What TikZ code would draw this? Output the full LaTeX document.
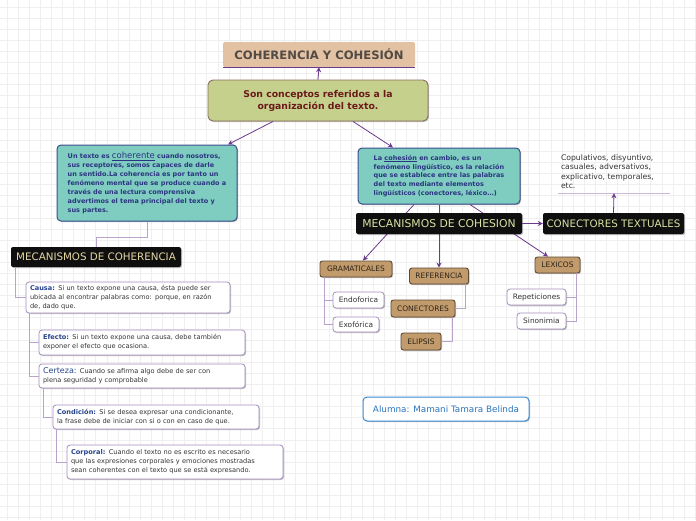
\documentclass[tikz,border=0pt]{standalone}
\usepackage{fontspec}
\setmainfont{DejaVu Sans}
\usetikzlibrary{arrows.meta,shadows}
\definecolor{gridc}{HTML}{EFEFEF}
\definecolor{titlefill}{HTML}{E3C1A3}
\definecolor{titletext}{HTML}{524A44}
\definecolor{mainfill}{HTML}{C5D08D}
\definecolor{mainborder}{HTML}{8C6E5E}
\definecolor{maintext}{HTML}{6B1A1A}
\definecolor{tealfill}{HTML}{7FCDC1}
\definecolor{tealborder}{HTML}{3C4E8C}
\definecolor{tealtext}{HTML}{2B3480}
\definecolor{khaki}{HTML}{E6D8A4}
\definecolor{yellowgreen}{HTML}{D9E2A2}
\definecolor{tanfill}{HTML}{C29B6C}
\definecolor{tanborder}{HTML}{5F4A33}
\definecolor{tantext}{HTML}{2E2418}
\definecolor{wborder}{HTML}{A58FC0}
\definecolor{labblue}{HTML}{27458C}
\definecolor{bodytext}{HTML}{333333}
\definecolor{arrowc}{HTML}{6B3A8C}
\definecolor{treec}{HTML}{B9A2CC}
\definecolor{alumborder}{HTML}{3C8BD2}
\definecolor{alumtext}{HTML}{2A76C0}
\definecolor{underc}{HTML}{C9B8DA}
\newcommand{\lab}[1]{{\bfseries\color{labblue}#1}}
\tikzset{
  sh/.style={drop shadow={shadow xshift=1pt,shadow yshift=-1pt,opacity=0.25,fill=black}},
  tealbox/.style={draw=tealborder,fill=tealfill,rounded corners=4pt,line width=1pt,
    font=\bfseries\fontsize{6.5}{9.1}\selectfont,text=tealtext,align=left,inner sep=0pt,sh},
  darkbox/.style={fill=black!94,rounded corners=2pt,font=\fontsize{10.3}{11}\selectfont,inner sep=0pt,sh},
  tanbox/.style={draw=tanborder,fill=tanfill,rounded corners=2.5pt,line width=0.9pt,
    font=\fontsize{7.5}{8}\selectfont,text=tantext,inner sep=0pt,sh},
  wbox/.style={draw=wborder,fill=white,rounded corners=3pt,line width=0.8pt,
    font=\fontsize{7.4}{8}\selectfont,text=bodytext,inner sep=0pt,sh},
  itembox/.style={wbox,align=left,font=\fontsize{6.6}{9}\selectfont,inner xsep=4pt,inner ysep=0pt},
  arr/.style={draw=arrowc,line width=0.8pt,-{Stealth[length=5pt,width=5pt]}},
  tree/.style={draw=treec,line width=0.8pt},
}
\begin{document}
\begin{tikzpicture}[x=1pt,y=-1pt]
\useasboundingbox (0,0) rectangle (696,520);
\fill[white] (0,0) rectangle (696,520);
\foreach \i in {0,...,62}{
  \draw[gridc,line width=0.8pt] ({7+\i*11.1},0) -- ({7+\i*11.1},520);
}
\foreach \i in {0,...,46}{
  \draw[gridc,line width=0.8pt] (0,{7+\i*11.1}) -- (696,{7+\i*11.1});
}

% top
\node[fill=titlefill,rounded corners=2pt,minimum width=192pt,minimum height=25pt,inner sep=0pt,
  font=\bfseries\fontsize{11.6}{12}\selectfont,text=titletext] (title) at (319,54.5) {COHERENCIA Y COHESIÓN};
\draw[arrowc,line width=1.2pt] (title.south west) -- (title.south east);
\node[draw=mainborder,fill=mainfill,rounded corners=5pt,line width=0.9pt,minimum width=220pt,minimum height=41pt,
  inner sep=0pt,align=center,font=\bfseries\fontsize{9.3}{12}\selectfont,text=maintext,sh] (main) at (318,100.5)
  {Son conceptos referidos a la\\organización del texto.};
\draw[arr] (main.north) -- (title.south);

% teal boxes
\node[tealbox,minimum width=180pt,minimum height=76pt] (lteal) at (147,183)
 {Un texto es \underline{{\mdseries\fontsize{8.5}{9.1}\selectfont coherente}} cuando nosotros,\\
  sus receptores, somos capaces de darle\\
  un sentido.La coherencia es por tanto un\\
  fenómeno mental que se produce cuando a\\
  través de una lectura comprensiva\\
  advertimos el tema principal del texto y\\
  sus partes.};
\node[tealbox,minimum width=162pt,minimum height=56pt,font=\bfseries\fontsize{6.5}{8.9}\selectfont] (rteal) at (439,176)
 {La \underline{cohesión} en cambio, es un\\
  fenómeno lingüístico, es la relación\\
  que se establece entre las palabras\\
  del texto mediante elementos\\
  lingüísticos (conectores, léxico…)};
\draw[arr] ([xshift=-45pt]main.south) -- ([xshift=81pt]lteal.north);
\draw[arr] ([xshift=35pt]main.south) -- ([xshift=-46pt]rteal.north);

% cohesion branch
\node[tanbox,minimum width=72pt,minimum height=16pt] (gram) at (356,269) {GRAMATICALES};
\node[tanbox,minimum width=59pt,minimum height=16pt] (ref) at (439,276) {REFERENCIA};
\node[tanbox,minimum width=64pt,minimum height=17pt] (conec) at (423,308.5) {CONECTORES};
\node[tanbox,minimum width=40pt,minimum height=17pt] (elip) at (421,341.5) {ELIPSIS};
\node[tanbox,minimum width=45pt,minimum height=16pt] (lex) at (557.5,265) {LEXICOS};
\node[wbox,minimum width=51pt,minimum height=16pt] (endo) at (358.5,300) {Endoforica};
\node[wbox,minimum width=46pt,minimum height=15pt] (exo) at (356,324.5) {Exofórica};
\node[wbox,minimum width=59pt,minimum height=16pt] (rep) at (536.5,297) {Repeticiones};
\node[wbox,minimum width=49pt,minimum height=16pt] (sino) at (541.5,321) {Sinonimia};

\draw[arr] ([xshift=-25pt]rteal.south) -- ([xshift=7pt]gram.north);
\draw[arr] (rteal.south) -- (ref.north);
\draw[arr] ([xshift=31pt]rteal.south) -- ([xshift=-9.5pt]lex.north);

\node[darkbox,minimum width=166pt,minimum height=21pt,text=yellowgreen,font=\fontsize{10.8}{11}\selectfont] (mcos) at (439,223.5) {MECANISMOS DE COHESION};
\node[darkbox,minimum width=141pt,minimum height=21pt,text=yellowgreen] (ctext) at (613.5,223.5) {CONECTORES TEXTUALES};
\draw[arr] (mcos.east) -- (ctext.west);

\node[minimum width=112pt,minimum height=43pt,text width=106pt,inner sep=0pt,align=left,
  font=\fontsize{7.7}{9.3}\selectfont,text=bodytext] (copul) at (614,171.5)
  {Copulativos, disyuntivo,\\casuales, adversativos,\\explicativo, temporales,\\etc.};
\draw[underc,line width=1pt] (copul.south west) -- (copul.south east);
\draw[arr] (ctext.north) -- (copul.south);

\draw[tree] ([xshift=5pt]gram.south west) |- (endo.west);
\draw[tree] ([xshift=5pt]gram.south west) |- (exo.west);
\draw[tree] ([xshift=-4pt]ref.south east) |- (conec.east);
\draw[tree] ([xshift=-3pt]conec.south east) |- (elip.east);
\draw[tree] ([xshift=-4pt]lex.south east) |- (rep.east);
\draw[tree] ([xshift=-4pt]lex.south east) |- (sino.east);

% coherence branch
\node[darkbox,minimum width=170pt,minimum height=20pt,text=khaki] (mcoh) at (96,257) {MECANISMOS DE COHERENCIA};
\draw[tree] (lteal.south) -- ++(0,16) -| (mcoh.north);

\node[itembox,minimum width=204pt,minimum height=31pt,text width=196pt] (causa) at (128,297.5)
 {\lab{Causa:} Si un texto expone una causa, ésta puede ser\\ubicada al encontrar palabras como: porque, en razón\\de, dado que.};
\node[itembox,minimum width=206pt,minimum height=25pt,text width=198pt] (efecto) at (142,342.5)
 {\lab{Efecto:} Si un texto expone una causa, debe también\\exponer el efecto que ocasiona.};
\node[itembox,minimum width=206pt,minimum height=24pt,text width=198pt] (certeza) at (142,376)
 {{\fontsize{8}{9}\selectfont\color{labblue}Certeza:} Cuando se afirma algo debe de ser con\\plena seguridad y comprobable};
\node[itembox,minimum width=206pt,minimum height=24pt,text width=198pt] (cond) at (156,417)
 {\lab{Condición:} Si se desea expresar una condicionante,\\la frase debe de iniciar con si o con en caso de que.};
\node[itembox,minimum width=216pt,minimum height=34pt,text width=208pt] (corp) at (175,462)
 {\lab{Corporal:} Cuando el texto no es escrito es necesario\\que las expresiones corporales y emociones mostradas\\sean coherentes con el texto que se está expresando.};

\draw[tree] ([xshift=5pt]mcoh.south west) |- (causa.west);
\draw[tree] ([xshift=4pt]causa.south west) |- (efecto.west);
\draw[tree] ([xshift=4pt]causa.south west) |- (certeza.west);
\draw[tree] ([xshift=5pt]certeza.south west) |- (cond.west);
\draw[tree] ([xshift=4pt]cond.south west) |- (corp.west);

% alumna
\node[draw=alumborder,fill=white,rounded corners=4pt,line width=1pt,minimum width=166pt,minimum height=24pt,
  inner sep=0pt,font=\fontsize{8.8}{9}\selectfont,text=alumtext,sh] (alum) at (446,409) {Alumna: Mamani Tamara Belinda};
\end{tikzpicture}
\end{document}
